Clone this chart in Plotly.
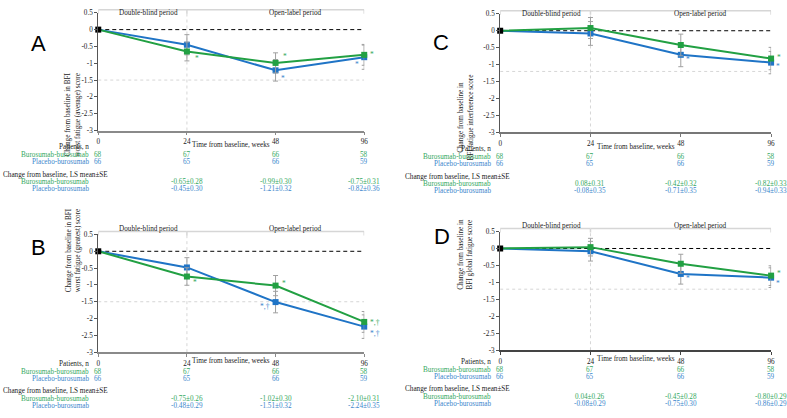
import plotly.graph_objects as go

W, H = 787, 418

# ---------------- data ----------------
weeks = ["0", "24", "48", "96"]
ytick_vals = [0.5, 0, -0.5, -1, -1.5, -2, -2.5, -3]
ytick_text = ["0.5", "0", "-0.5", "-1", "-1.5", "-2", "-2.5", "-3"]
series_names = ["Burosumab-burosumab", "Placebo-burosumab"]

buro_n = [68, 67, 66, 58]
plac_n = [66, 65, 66, 59]

a_buro = [0, -0.65, -0.99, -0.75]
a_buro_se = [0.28, 0.30, 0.31]
a_plac = [0, -0.45, -1.21, -0.82]
a_plac_se = [0.30, 0.32, 0.36]

b_buro = [0, -0.75, -1.02, -2.10]
b_buro_se = [0.26, 0.30, 0.31]
b_plac = [0, -0.48, -1.51, -2.24]
b_plac_se = [0.29, 0.32, 0.35]

c_buro = [0, 0.08, -0.42, -0.82]
c_buro_se = [0.31, 0.32, 0.33]
c_plac = [0, -0.08, -0.71, -0.94]
c_plac_se = [0.35, 0.35, 0.33]

d_buro = [0, 0.04, -0.45, -0.80]
d_buro_se = [0.26, 0.28, 0.29]
d_plac = [0, -0.08, -0.75, -0.86]
d_plac_se = [0.29, 0.30, 0.29]

y_titles = [
    "Change from baseline in BFI<br>worst fatigue (average) score",
    "Change from baseline in BFI<br>worst fatigue (greatest) score",
    "Change from baseline in<br>BFI fatigue interference score",
    "Change from baseline in<br>BFI global fatigue score",
]
letters = ["A", "B", "C", "D"]
ref_lines = [-1.5, -1.5, -1.2, -1.2]

# significance marks: (series index, week index, text)
marks = [
    [(0, 1, "*"), (0, 2, "*"), (1, 2, "*"), (0, 3, "*"), (1, 3, "*")],
    [(0, 1, "*"), (0, 2, "*"), (1, 2, "*,†"), (0, 3, "*,†"), (1, 3, "*,†")],
    [(1, 2, "*"), (0, 3, "*"), (1, 3, "*")],
    [(1, 2, "*"), (0, 3, "*"), (1, 3, "*")],
]
# placement of those marks (style only)
mark_pos = [
    [(7, -7, "left"), (6, 6, "left"), (4, -8, "left"), (5, 0, "left"), (-4, -7, "right")],
    [(5, -6, "left"), (5, 2, "left"), (-5, -4, "right"), (5, -1, "left"), (5, -7, "left")],
    [(4, -5, "left"), (5, 1, "left"), (4, -4, "left")],
    [(4, -5, "left"), (5, 2, "left"), (4, -6, "left")],
]

panels_data = [
    (a_buro, a_buro_se, a_plac, a_plac_se),
    (b_buro, b_buro_se, b_plac, b_plac_se),
    (c_buro, c_buro_se, c_plac, c_plac_se),
    (d_buro, d_buro_se, d_plac, d_plac_se),
]

# ---------------- layout geometry (pixels) ----------------
boxes = [  # left, right, top, bottom
    (97, 365, 10, 130),
    (97, 365, 236, 356),
    (502, 775, 11, 132),
    (502, 775, 233, 354),
]
letter_pos = [(27, 27), (27, 249), (442, 25), (443, 238)]
xline_colors = ["#8a8a8a", "#8a8a8a", "#777777", "#444444"]

GREEN = "#22a043"
BLUE = "#1f74c6"
GREEN_T = "#33a860"
BLUE_T = "#3a86cc"
SERIF = "Liberation Serif, Times New Roman, serif"
FS = 7.2


def pxx(x):
    return x / W


def pxy(y):
    return 1 - y / H


fig = go.Figure()
annotations = []
shapes = []
xidx = list(range(len(weeks)))

for i, (data, box) in enumerate(zip(panels_data, boxes)):
    n = i + 1
    xa = "x" if n == 1 else f"x{n}"
    ya = "y" if n == 1 else f"y{n}"
    left, right, top, bottom = box
    buro, buro_se, plac, plac_se = data

    for vals, se, col, name in [(plac, plac_se, BLUE, series_names[1]),
                                (buro, buro_se, GREEN, series_names[0])]:
        fig.add_trace(go.Scatter(
            x=xidx, y=vals, mode="lines", line=dict(color=col, width=2),
            xaxis=xa, yaxis=ya, showlegend=False, cliponaxis=False, name=name,
            hoverinfo="skip"))
        fig.add_trace(go.Scatter(
            x=xidx[1:], y=vals[1:], mode="markers",
            marker=dict(symbol="square", size=6, color=col),
            error_y=dict(type="data", array=se, color="#a0a0a0", thickness=1, width=2.5),
            xaxis=xa, yaxis=ya, showlegend=False, cliponaxis=False, name=name))
    fig.add_trace(go.Scatter(
        x=xidx[:1], y=buro[:1], mode="markers",
        marker=dict(symbol="square", size=6, color="black"),
        xaxis=xa, yaxis=ya, showlegend=False, cliponaxis=False))

    fig.update_layout(**{
        ("xaxis" if n == 1 else f"xaxis{n}"): dict(
            domain=[pxx(left), pxx(right)], range=[0, len(weeks) - 1],
            tickvals=xidx, ticktext=weeks, anchor=ya, showgrid=False, zeroline=False,
            showline=True, linecolor=xline_colors[i], linewidth=1.5, ticks="outside",
            ticklen=3, tickcolor=xline_colors[i],
            tickfont=dict(family=SERIF, size=FS, color="#222")),
        ("yaxis" if n == 1 else f"yaxis{n}"): dict(
            domain=[pxy(bottom), pxy(top)], range=[-3, 0.5],
            tickvals=ytick_vals, ticktext=ytick_text, anchor=xa, showgrid=False,
            zeroline=False, showline=True, linecolor="#555", linewidth=1,
            ticks="outside", ticklen=3, tickcolor="#555",
            tickfont=dict(family=SERIF, size=FS, color="#222")),
    })

    # reference lines
    shapes.append(dict(type="line", xref=xa, yref=ya, x0=0, x1=len(weeks) - 1, y0=0, y1=0,
                       line=dict(color="black", width=1, dash="4px,3px"), layer="below"))
    shapes.append(dict(type="line", xref=xa, yref=ya, x0=0, x1=len(weeks) - 1,
                       y0=ref_lines[i], y1=ref_lines[i],
                       line=dict(color="#d6d6d6", width=1, dash="3px,3px"), layer="below"))
    shapes.append(dict(type="line", xref=xa, yref=f"{ya} domain", x0=1, x1=1, y0=0, y1=1.02,
                       line=dict(color="#d6d6d6", width=1, dash="3px,3px"), layer="below"))
    # period brackets
    by = 1 + 3 / (bottom - top)
    bt = 1 - 1 / (bottom - top)
    for x0, x1 in [(0, 1), (1, len(weeks) - 1)]:
        shapes.append(dict(type="line", xref=xa, yref=f"{ya} domain", x0=x0, x1=x1, y0=by, y1=by,
                           line=dict(color="#d6d6d6", width=1.5)))
    for xx in [0, 1, len(weeks) - 1]:
        shapes.append(dict(type="line", xref=xa, yref=f"{ya} domain", x0=xx, x1=xx, y0=by, y1=bt,
                           line=dict(color="#d6d6d6", width=1.5)))
    annotations.append(dict(xref=xa, yref="paper", x=0.5, y=pxy(top - 6), xshift=6,
                            text="Double-blind period", showarrow=False,
                            font=dict(family=SERIF, size=FS, color="#222")))
    annotations.append(dict(xref=xa, yref="paper", x=2, y=pxy(top - 6), xshift=19,
                            text="Open-label period", showarrow=False,
                            font=dict(family=SERIF, size=FS, color="#222")))

    # panel letter
    lx, ly = letter_pos[i]
    annotations.append(dict(xref="paper", yref="paper", x=pxx(lx), y=pxy(ly), text=letters[i],
                            showarrow=False, font=dict(family="Liberation Sans, Arial, sans-serif",
                                                      size=22, color="black")))
    # y title
    annotations.append(dict(xref="paper", yref="paper", x=pxx(left - 35), y=pxy((top + bottom) / 2),
                            text=y_titles[i], textangle=-90, showarrow=False, borderpad=0,
                            font=dict(family=SERIF, size=FS, color="#222")))
    # x title
    annotations.append(dict(xref=xa, yref="paper", x=1.5, y=pxy(bottom + 15),
                            text="Time from baseline, weeks", showarrow=False,
                            font=dict(family=SERIF, size=FS, color="#222")))

    # significance marks
    for (s, w, txt), (dx, dy, anc) in zip(marks[i], mark_pos[i]):
        vals = buro if s == 0 else plac
        annotations.append(dict(xref=xa, yref=ya, x=w, y=vals[w], text=txt, showarrow=False,
                                xanchor=anc, xshift=dx, yshift=dy, borderpad=0,
                                font=dict(family=SERIF, size=7.5,
                                          color=GREEN_T if s == 0 else BLUE_T)))

    # table
    def ann_paper(x, y, text, color, anchor):
        annotations.append(dict(xref="paper", yref="paper", x=pxx(x), y=pxy(y), text=text,
                                showarrow=False, xanchor=anchor, borderpad=0,
                                font=dict(family=SERIF, size=FS, color=color)))

    ann_paper(left - 8, bottom + 17, "Patients, n", "#222", "right")
    ann_paper(left - 8, bottom + 25, series_names[0], GREEN_T, "right")
    ann_paper(left - 8, bottom + 32, series_names[1], BLUE_T, "right")
    ann_paper(left - 97, bottom + 45, "Change from baseline, LS mean±SE", "#222", "left")
    ann_paper(left - 8, bottom + 53, series_names[0], GREEN_T, "right")
    ann_paper(left - 8, bottom + 60, series_names[1], BLUE_T, "right")

    for w in xidx:
        for nv, dy, col in [(buro_n, 25, GREEN_T), (plac_n, 32, BLUE_T)]:
            annotations.append(dict(xref=xa, yref="paper", x=w, y=pxy(bottom + dy), text=str(nv[w]),
                                    showarrow=False, borderpad=0,
                                    font=dict(family=SERIF, size=FS, color=col)))
    for w in xidx[1:]:
        for vals, se, dy, col in [(buro, buro_se, 53, GREEN_T), (plac, plac_se, 60, BLUE_T)]:
            annotations.append(dict(xref=xa, yref="paper", x=w, y=pxy(bottom + dy),
                                    text=f"{vals[w]:.2f}±{se[w - 1]:.2f}", showarrow=False,
                                    borderpad=0,
                                    font=dict(family=SERIF, size=FS, color=col)))

fig.update_layout(
    width=W, height=H, margin=dict(l=0, r=0, t=0, b=0),
    paper_bgcolor="white", plot_bgcolor="white",
    annotations=annotations, shapes=shapes, showlegend=False,
)
fig.write_html("out.html", config={"displayModeBar": False},
               post_script="document.body.style.margin='0';document.body.style.overflow='hidden';")
